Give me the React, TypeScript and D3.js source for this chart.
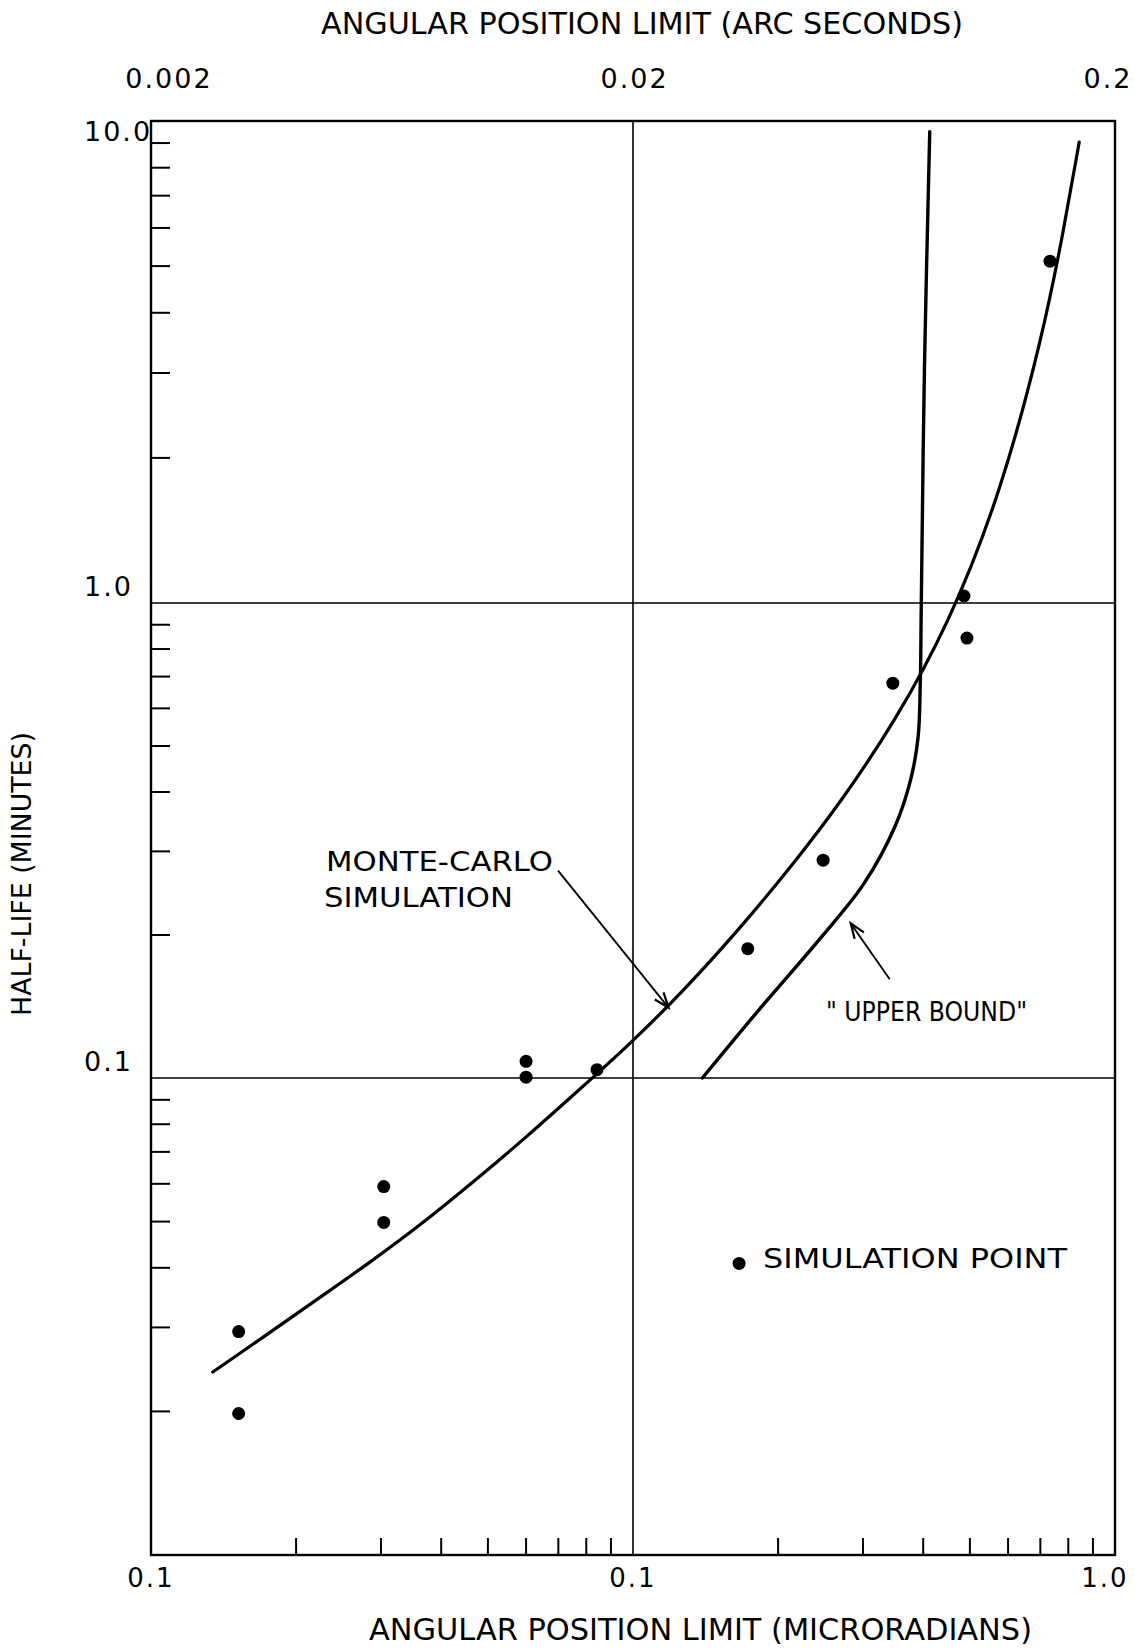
import React from "react";
import * as d3 from "d3";

// ---- data ----
const xDomain = [0.01, 1]; // microradians
const yDecades = [0.01, 0.1, 1, 10]; // minutes (hand-ruled paper: decades not exactly equal)
const ARCSEC_PER_MICRORAD = 0.206265;

const bottomTickValues = [0.01, 0.1, 1];
const bottomTickLabels = ["0.1", "0.1", "1.0"];
const topTickValues = [0.002, 0.02, 0.2];
const topTickLabels = ["0.002", "0.02", "0.2"];
const leftTickValues = [10, 1, 0.1];
const leftTickLabels = ["10.0", "1.0", "0.1"];

const simX = [0.0152, 0.0152, 0.0304, 0.0304, 0.06, 0.06, 0.0842, 0.173, 0.248, 0.346, 0.486, 0.493, 0.733];
const simY = [0.0294, 0.0198, 0.0592, 0.0498, 0.1084, 0.1004, 0.1041, 0.1872, 0.2874, 0.678, 1.034, 0.8435, 5.12];

const monteX = [0.01343, 0.01709, 0.02198, 0.02827, 0.03636, 0.04674, 0.06012, 0.07731, 0.09938, 0.1279, 0.1644, 0.2114, 0.2718, 0.3496, 0.4496, 0.5781, 0.7071, 0.7816, 0.8428];
const monteY = [0.02419, 0.02861, 0.0342, 0.04085, 0.04931, 0.0607, 0.07518, 0.09446, 0.1188, 0.1534, 0.2032, 0.2759, 0.3844, 0.5639, 0.8923, 1.676, 3.565, 5.896, 9.041];

const upperX = [0.1393, 0.1818, 0.2459, 0.3006, 0.3496, 0.377, 0.3904, 0.3944, 0.3964, 0.4024, 0.4127];
const upperY = [0.1, 0.1385, 0.198, 0.2556, 0.3385, 0.4259, 0.5223, 0.674, 0.999, 3.066, 9.506];

const legendX = [0.166];
const legendY = [0.04085];

const FONT = "'DejaVu Sans', 'Liberation Sans', sans-serif";

export default function App() {
  const W = 1135, H = 1651;
  const left = 151, right = 1115, top = 121, bottom = 1555;
  const x = d3.scaleLog().domain(xDomain).range([left, right]);
  const xTop = d3.scaleLog().domain(xDomain.map((d) => d * ARCSEC_PER_MICRORAD)).range([left, right]);
  const y = d3.scaleLog().domain(yDecades).range([bottom, 1078, 603, top]);

  const yMinor: number[] = [];
  for (let k = -2; k <= 0; k++) for (let d = 2; d <= 9; d++) yMinor.push(d * Math.pow(10, k));
  const xMinor: number[] = [];
  for (let k = -2; k <= -1; k++) for (let d = 2; d <= 9; d++) xMinor.push(d * Math.pow(10, k));

  const monteLine = d3
    .line<[number, number]>()
    .x((d) => x(d[0]))
    .y((d) => y(d[1]))
    .curve(d3.curveBasis);
  const upperLine = d3
    .line<[number, number]>()
    .x((d) => x(d[0]))
    .y((d) => y(d[1]))
    .curve(d3.curveCatmullRom.alpha(0.5));

  const montePath = monteLine(monteX.map((v, i) => [v, monteY[i]]));
  const upperPath = upperLine(upperX.map((v, i) => [v, upperY[i]]));

  // annotation arrows (data coordinates)
  const mcTail: [number, number] = [0.0699, 0.2732];
  const mcTip: [number, number] = [0.1185, 0.1407];
  const ubTail: [number, number] = [0.3409, 0.1614];
  const ubTip: [number, number] = [0.2829, 0.2116];

  const arrow = (tail: [number, number], tip: [number, number]) => {
    const x1 = x(tail[0]), y1 = y(tail[1]), x2 = x(tip[0]), y2 = y(tip[1]);
    const ang = Math.atan2(y2 - y1, x2 - x1);
    const len = 16, spread = 0.36;
    const a1x = x2 - len * Math.cos(ang - spread), a1y = y2 - len * Math.sin(ang - spread);
    const a2x = x2 - len * Math.cos(ang + spread), a2y = y2 - len * Math.sin(ang + spread);
    return (
      <g>
        <line x1={x1} y1={y1} x2={x2} y2={y2} stroke="#000" strokeWidth={1.8} />
        <path d={`M${a1x},${a1y}L${x2},${y2}L${a2x},${a2y}`} fill="none" stroke="#000" strokeWidth={2.2} />
      </g>
    );
  };

  return (
    <svg width={W} height={H} style={{ position: "absolute", left: 0, top: 0, background: "#fff" }} fontFamily={FONT}>
      <rect x={0} y={0} width={W} height={H} fill="#fff" />
      {/* frame */}
      <rect x={left} y={top} width={right - left} height={bottom - top} fill="none" stroke="#000" strokeWidth={2.4} />
      {/* decade gridlines */}
      {[1, 0.1].map((v) => (
        <line key={"hg" + v} x1={left} x2={right} y1={y(v)} y2={y(v)} stroke="#000" strokeWidth={1.6} />
      ))}
      <line x1={x(0.1)} x2={x(0.1)} y1={top} y2={bottom} stroke="#000" strokeWidth={1.6} />
      {/* minor ticks */}
      {yMinor.map((v) => (
        <line key={"ym" + v} x1={left} x2={left + 19} y1={y(v)} y2={y(v)} stroke="#000" strokeWidth={2} />
      ))}
      {xMinor.map((v) => (
        <line key={"xm" + v} x1={x(v)} x2={x(v)} y1={bottom} y2={bottom - 17} stroke="#000" strokeWidth={2} />
      ))}
      {/* tick labels */}
      {leftTickValues.map((v, i) => (
        <text key={"yl" + v} x={84} y={i === 0 ? y(v) + 20 : y(v) - 7} fontSize={27} letterSpacing={2} fill="#000">
          {leftTickLabels[i]}
        </text>
      ))}
      {bottomTickValues.map((v, i) => (
        <text key={"xl" + v} x={Math.min(x(v), 1105)} y={1587} fontSize={26} letterSpacing={2} textAnchor="middle" fill="#000">
          {bottomTickLabels[i]}
        </text>
      ))}
      {topTickValues.map((v, i) => (
        <text
          key={"tl" + v}
          x={Math.max(169, Math.min(1108, xTop(v) + 8))}
          y={88}
          fontSize={27}
          letterSpacing={2}
          textAnchor="middle"
          fill="#000"
        >
          {topTickLabels[i]}
        </text>
      ))}
      {/* axis titles */}
      <text x={321} y={34} fontSize={30} textLength={642} lengthAdjust="spacingAndGlyphs" fill="#000">
        ANGULAR POSITION LIMIT (ARC SECONDS)
      </text>
      <text x={369} y={1640} fontSize={31} textLength={663} lengthAdjust="spacingAndGlyphs" fill="#000">
        ANGULAR POSITION LIMIT (MICRORADIANS)
      </text>
      <text
        transform={`translate(31,874) rotate(-90)`}
        fontSize={27}
        textAnchor="middle"
        textLength={284}
        lengthAdjust="spacingAndGlyphs"
        fill="#000"
      >
        HALF-LIFE (MINUTES)
      </text>
      {/* curves */}
      <path d={montePath || ""} fill="none" stroke="#000" strokeWidth={3.2} strokeLinecap="round" />
      <path d={upperPath || ""} fill="none" stroke="#000" strokeWidth={3.4} strokeLinecap="round" />
      {/* points */}
      {simX.map((v, i) => (
        <circle key={"p" + i} cx={x(v)} cy={y(simY[i])} r={6.5} fill="#000" />
      ))}
      {/* annotations */}
      <text x={326} y={871} fontSize={27} textLength={227} lengthAdjust="spacingAndGlyphs" fill="#000">
        MONTE-CARLO
      </text>
      <text x={324} y={907} fontSize={27} textLength={189} lengthAdjust="spacingAndGlyphs" fill="#000">
        SIMULATION
      </text>
      {arrow(mcTail, mcTip)}
      <text x={826} y={1021} fontSize={27} textLength={201} lengthAdjust="spacingAndGlyphs" fill="#000">
        {'" UPPER BOUND"'}
      </text>
      {arrow(ubTail, ubTip)}
      {/* legend */}
      {legendX.map((v, i) => (
        <circle key={"lg" + i} cx={x(v)} cy={y(legendY[i])} r={6.5} fill="#000" />
      ))}
      <text x={763} y={1268} fontSize={27} textLength={304} lengthAdjust="spacingAndGlyphs" fill="#000">
        SIMULATION POINT
      </text>
    </svg>
  );
}
